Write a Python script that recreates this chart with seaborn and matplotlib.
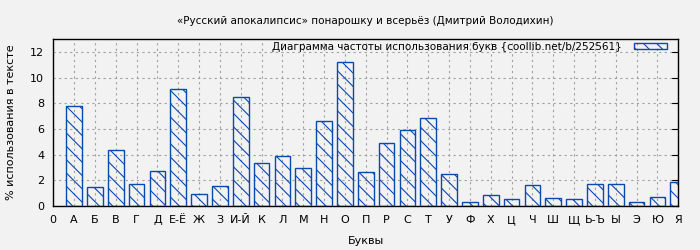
import matplotlib
matplotlib.use("Agg")
import matplotlib.pyplot as plt
import seaborn as sns
import numpy as np
import pandas as pd

letters = ["А", "Б", "В", "Г", "Д", "Е-Ё", "Ж", "З", "И-Й", "К", "Л", "М", "Н", "О", "П",
           "Р", "С", "Т", "У", "Ф", "Х", "Ц", "Ч", "Ш", "Щ", "Ь-Ъ", "Ы", "Э", "Ю", "Я"]
values = [7.8, 1.5, 4.35, 1.7, 2.7, 9.1, 0.9, 1.55, 8.5, 3.35, 3.9, 2.95, 6.6, 11.2, 2.65,
          4.95, 5.9, 6.85, 2.5, 0.3, 0.85, 0.55, 1.6, 0.6, 0.55, 1.75, 1.7, 0.3, 0.7, 1.85]
tick_labels = ["0"] + letters
title = "«Русский апокалипсис» понарошку и всерьёз (Дмитрий Володихин)"
legend_label = "Диаграмма частоты использования букв {coollib.net/b/252561}"

# render at dpi 80 (hatch spacing depends on dpi); scale point sizes accordingly
DPI = 80
k = 100 / DPI

sns.set_theme(style="white")
plt.rcParams["font.family"] = ["DejaVu Sans"]
plt.rcParams["text.color"] = "black"
plt.rcParams["axes.labelcolor"] = "black"
plt.rcParams["hatch.color"] = "#0a4ab0"
plt.rcParams["hatch.linewidth"] = 0.8 * k

bg = "#f2f2f2"
blue = "#0a4ab0"

df = pd.DataFrame({"pos": np.arange(1, len(letters) + 1), "val": values})

fig = plt.figure(figsize=(700 / DPI, 250 / DPI), dpi=DPI, facecolor=bg)
ax = fig.add_axes([0.076, 0.176, 0.893, 0.667])
ax.set_facecolor(bg)

sns.barplot(data=df, x="pos", y="val", native_scale=True, width=0.75,
            color="white", edgecolor=blue, linewidth=1.0 * k, fill=False,
            hatch="\\\\", ax=ax, label=legend_label, zorder=3)
for p in ax.patches:
    p.set_hatch("\\\\")
    p.set_edgecolor(blue)
    p.set_facecolor("none")

ax.set_xlim(0, len(letters) - 0.001)
ax.set_ylim(0, 13)
ax.set_xticks(range(len(tick_labels)))
ax.set_xticklabels(tick_labels)
ax.set_yticks([0, 2, 4, 6, 8, 10, 12])
ax.tick_params(axis="both", labelsize=8 * k, colors="black", length=3 * k,
               width=0.8 * k, pad=3.5 * k, direction="out")
ax.grid(True, color="#a0a0a0", linestyle=(0, (2, 3)), linewidth=0.8 * k, zorder=0)
ax.set_axisbelow(True)
for s in ax.spines.values():
    s.set_visible(True)
    s.set_color("black")
    s.set_linewidth(1.0 * k)

# inward ticks on the right side
for y in [0, 2, 4, 6, 8, 10, 12]:
    ax.plot([0.99, 1.0], [y, y], transform=ax.get_yaxis_transform(), color="black",
            linewidth=0.8 * k, clip_on=False, zorder=4)

ax.set_xlabel("Буквы", fontsize=8 * k, labelpad=8 * k, color="black")
ax.set_ylabel("% использования в тексте", fontsize=8 * k, labelpad=10 * k, color="black")
ax.set_title(title, fontsize=7.5 * k, pad=11 * k, color="black")

leg = ax.legend(loc="upper right", bbox_to_anchor=(0.985, 0.997), frameon=False,
                markerfirst=False, fontsize=7.5 * k, borderaxespad=0, borderpad=0.2,
                handlelength=3.2, handleheight=0.6, handletextpad=1.1, labelcolor="black")

fig.savefig("out.png", dpi=DPI, facecolor=bg)
